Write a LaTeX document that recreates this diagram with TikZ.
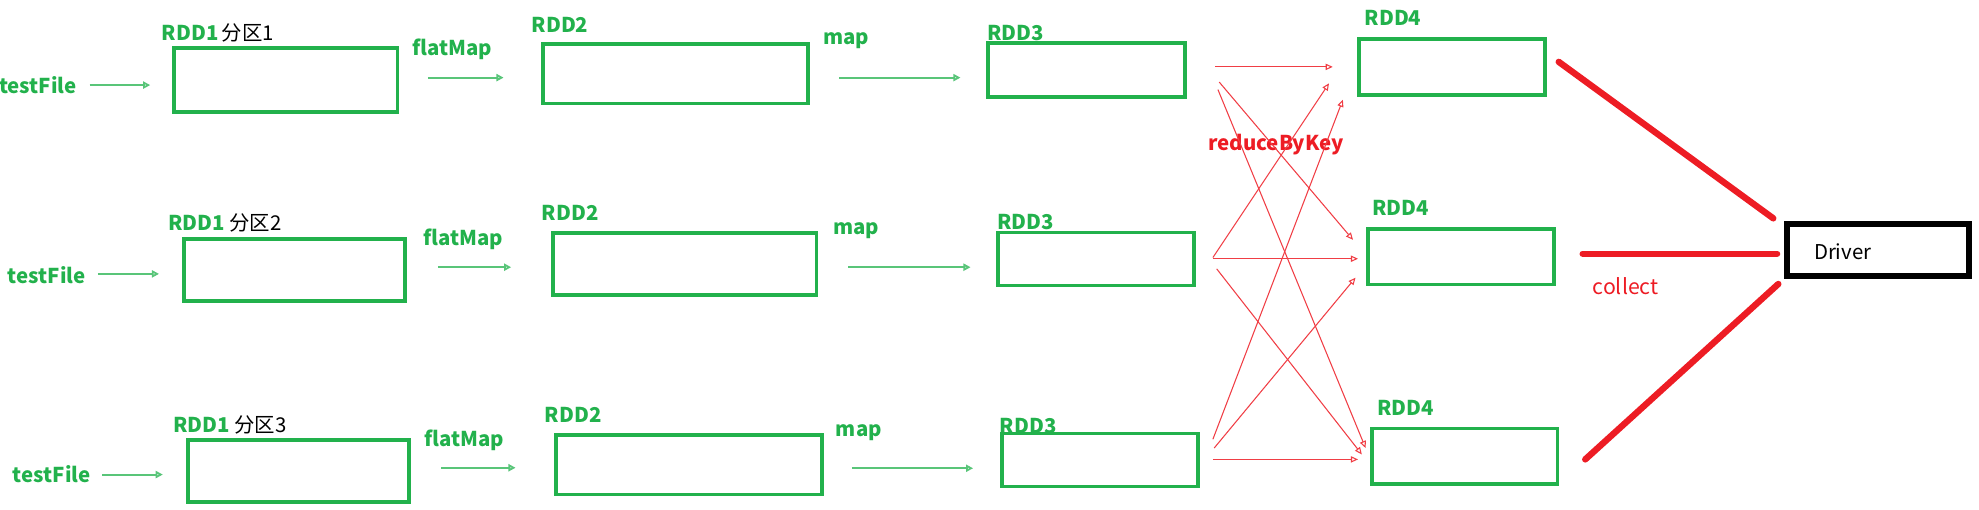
\documentclass[tikz,border=0pt]{standalone}
\usepackage{fontspec}
\setmainfont{Noto Sans CJK SC}
\usetikzlibrary{positioning,arrows.meta}
\definecolor{rddgreen}{RGB}{34,177,76}
\definecolor{paintred}{RGB}{237,28,36}
\tikzset{
  rdd/.style 2 args={draw=rddgreen, line width=2.1pt, minimum width=#1*0.025cm, minimum height=#2*0.025cm, inner sep=0pt},
  tag/.style={font=\fontsize{11.5}{13}\selectfont\bfseries, text=rddgreen, inner sep=0pt},
  garrow/.style={-{Triangle[open,length=4pt,width=4pt]}, rddgreen!75, line width=1.1pt},
  rarrow/.style={-{Triangle[open,length=4pt,width=3.5pt]}, paintred!85, line width=0.6pt},
  collectline/.style={paintred, line width=3.6pt, line cap=round},
}

\begin{document}
\begin{tikzpicture}[x=0.025cm, y=-0.025cm]
\useasboundingbox (0,0) rectangle (1568,404);
% partition 1
\node[tag] (tf1) at (30,67.4) {testFile};
\node[rdd={177}{51}] (rddA1) at (226.5,63.5) {};
\node[tag, anchor=west] (lblA1) at (128,26.5) {RDD1\,\textcolor{black}{\mdseries 分区1}};
\node[tag] (fm1) at (358.5,39) {flatMap};
\node[rdd={210}{47}] (rddB1) at (535,58.5) {};
\node[tag, anchor=west] (lblB1) at (421,20) {RDD2};
\node[tag] (mp1) at (670.5,32) {map};
\node[rdd={156}{43}] (rddC1) at (861,55.5) {};
\node[tag, anchor=west] (lblC1) at (782,26) {RDD3};
\coordinate (ta1) at (71,67.4);  \coordinate (tb1) at (119,67.4);
\coordinate (fa1) at (339,61.5); \coordinate (fb1) at (399,61.5);
\coordinate (ma1) at (665,61.5); \coordinate (mb1) at (761,61.5);
\draw[garrow] (ta1) -- (tb1);
\draw[garrow] (fa1) -- (fb1);
\draw[garrow] (ma1) -- (mb1);
% partition 2
\node[tag] (tf2) at (37,218) {testFile};
\node[rdd={175}{49}] (rddA2) at (233.5,214) {};
\node[tag, anchor=west] (lblA2) at (133,176.8) {RDD1 \textcolor{black}{\mdseries 分区2}};
\node[tag] (fm2) at (367,189.6) {flatMap};
\node[rdd={209}{49}] (rddB2) at (542.5,209.3) {};
\node[tag, anchor=west] (lblB2) at (429,169) {RDD2};
\node[tag] (mp2) at (678.5,183) {map};
\node[rdd={155}{42}] (rddC2) at (868.5,205.3) {};
\node[tag, anchor=west] (lblC2) at (790,175.7) {RDD3};
\coordinate (ta2) at (77.6,217);  \coordinate (tb2) at (126,217);
\coordinate (fa2) at (347,211.7); \coordinate (fb2) at (405,211.7);
\coordinate (ma2) at (672,211.7); \coordinate (mb2) at (769,211.7);
\draw[garrow] (ta2) -- (tb2);
\draw[garrow] (fa2) -- (fb2);
\draw[garrow] (ma2) -- (mb2);
% partition 3
\node[tag] (tf3) at (41,376) {testFile};
\node[rdd={175}{49}] (rddA3) at (236.5,373) {};
\node[tag, anchor=west] (lblA3) at (137,336.8) {RDD1 \textcolor{black}{\mdseries 分区3}};
\node[tag] (fm3) at (368,348.7) {flatMap};
\node[rdd={211}{47}] (rddB3) at (546,368.4) {};
\node[tag, anchor=west] (lblB3) at (431.5,329) {RDD2};
\node[tag] (mp3) at (680.5,343) {map};
\node[rdd={155}{42}] (rddC3) at (871.5,364.5) {};
\node[tag, anchor=west] (lblC3) at (792,337.6) {RDD3};
\coordinate (ta3) at (81,376);      \coordinate (tb3) at (129,376);
\coordinate (fa3) at (349.5,370.6); \coordinate (fb3) at (408.5,370.6);
\coordinate (ma3) at (675,371);     \coordinate (mb3) at (771,371);
\draw[garrow] (ta3) -- (tb3);
\draw[garrow] (fa3) -- (fb3);
\draw[garrow] (ma3) -- (mb3);
% reduceByKey results
\node[rdd={147}{44}] (rddD1) at (1150.5,53) {};
\node[tag, anchor=west] (lblD1) at (1081,14.4) {RDD4};
\node[rdd={147}{44}] (rddD2) at (1157.5,203.3) {};
\node[tag, anchor=west] (lblD2) at (1087,164.7) {RDD4};
\node[rdd={147}{44}] (rddD3) at (1160.5,361.5) {};
\node[tag, anchor=west] (lblD3) at (1091,323) {RDD4};
\node[tag, text=paintred] (rbk) at (1011,114.6) {reduceByKey};
% shuffle arrows
\coordinate (s1a) at (963,53);  \coordinate (e1a) at (1056,53);
\coordinate (s1b) at (966,65);  \coordinate (e1b) at (1072,190);
\coordinate (s1c) at (965,71);  \coordinate (e1c) at (1082,355);
\coordinate (s2a) at (961,204); \coordinate (e2a) at (1053,66);
\coordinate (s2b) at (961,205); \coordinate (e2b) at (1076,205);
\coordinate (s2c) at (964,213); \coordinate (e2c) at (1079,360);
\coordinate (s3a) at (961,348); \coordinate (e3a) at (1064,79);
\coordinate (s3b) at (962,355); \coordinate (e3b) at (1074,220);
\coordinate (s3c) at (961,364); \coordinate (e3c) at (1076,364);
\foreach \k in {1a,1b,1c,2a,2b,2c,3a,3b,3c}
  \draw[rarrow] (s\k) -- (e\k);
% driver
\node[draw=black, line width=3.3pt, minimum width=144*0.025cm, minimum height=41.5*0.025cm, inner sep=0pt] (drv) at (1488,198.2) {};
\node[font=\fontsize{11.5}{13}\selectfont, anchor=west, inner sep=0pt] (drvtxt) at (1437,199.5) {Driver};
\node[font=\fontsize{12}{14}\selectfont, text=paintred, inner sep=0pt] (clt) at (1288,227) {collect};
\coordinate (c1a) at (1235,49);  \coordinate (c1b) at (1405,173);
\coordinate (c2a) at (1254,201); \coordinate (c2b) at (1408,201);
\coordinate (c3a) at (1256,364); \coordinate (c3b) at (1409,225);
\draw[collectline] (c1a) -- (c1b);
\draw[collectline] (c2a) -- (c2b);
\draw[collectline] (c3a) -- (c3b);
\end{tikzpicture}
\end{document}
